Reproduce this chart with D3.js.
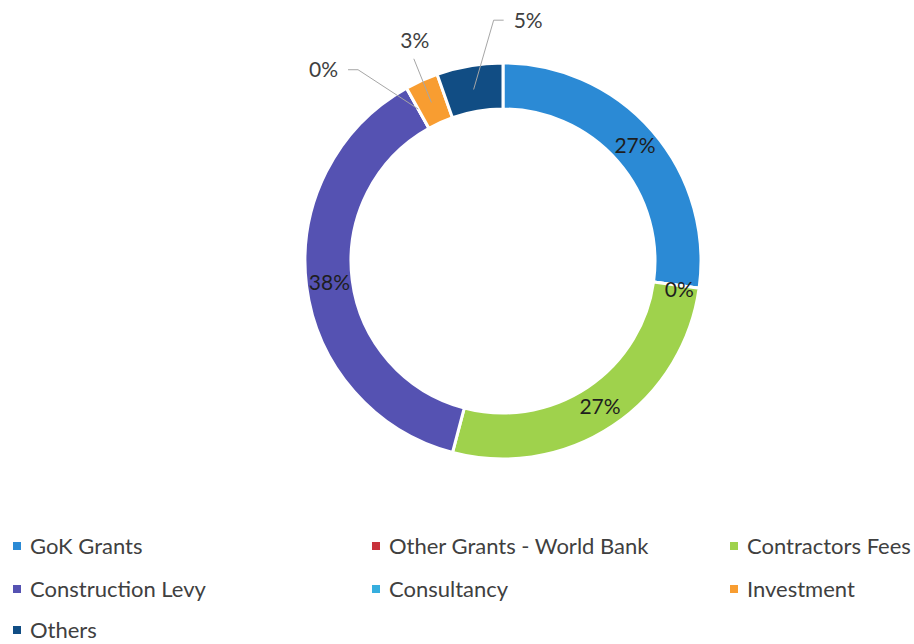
<!DOCTYPE html>
<html>
<head>
<meta charset="utf-8">
<script src="https://cdn.jsdelivr.net/npm/d3@7"></script>
<style>
body { margin: 0; background: #fff; }
svg { display: block; }
</style>
</head>
<body>
<svg></svg>
<script>
// funding sources, share of total (%)
var categories = ["GoK Grants", "Other Grants - World Bank", "Contractors Fees", "Construction Levy", "Consultancy", "Investment", "Others"];
var shares = [27.2, 0, 26.9, 37.8, 0, 2.7, 5.4];
var labels = ["27%", "0%", "27%", "38%", "0%", "3%", "5%"];
var colors = ["#2b8ad5", "#c8323c", "#9fd24c", "#5552b2", "#36aede", "#f89d31", "#114d84"];

var width = 914;
var height = 644;
var cx = 503, cy = 261;
var rOut = 198, rIn = 152;

var svg = d3.select("svg")
    .attr("width", width)
    .attr("height", height);

var data = categories.map(function(c, i) {
  return { name: c, value: shares[i], label: labels[i], color: colors[i] };
});

var pie = d3.pie()
    .sort(null)
    .value(d => d.value);

var arcs = pie(data);

var arc = d3.arc()
    .innerRadius(rIn)
    .outerRadius(rOut);

var g = svg.append("g")
    .attr("transform", "translate(" + cx + "," + cy + ")");

g.selectAll("path")
    .data(arcs)
  .enter().append("path")
    .attr("d", arc)
    .attr("fill", d => d.data.color)
    .attr("stroke", "#fff")
    .attr("stroke-width", 3);

function pt(r, a) {
  return [r * Math.sin(a), -r * Math.cos(a)];
}

var deg = Math.PI / 180;

// labels inside the ring
var inside = [0, 1, 2, 3];
g.selectAll(".lab-in")
    .data(inside.map(i => arcs[i]))
  .enter().append("text")
    .attr("class", "lab-in")
    .attr("transform", function(d) {
      var a = (d.startAngle + d.endAngle) / 2;
      var p = pt(175, a);
      if (d.data.value === 0) p = [p[0] + 3, p[1] + 5];
      return "translate(" + p[0] + "," + p[1] + ")";
    })
    .attr("text-anchor", "middle")
    .attr("dy", "0.35em")
    .style("font-family", "Lato, 'Noto Sans', sans-serif")
    .style("font-size", "21px")
    .style("fill", "#1e1e1e")
    .text(d => d.data.label);

// outside labels with leader lines
var outside = [
  { i: 4, elbow: [240, -8 * deg], tail: -10, anchor: "end" },
  { i: 5, elbow: [221, 0.5 * deg], tail: 0, anchor: "middle" },
  { i: 6, elbow: [241, 7.5 * deg], tail: 10, anchor: "start" }
];

outside.forEach(function(o) {
  var d = arcs[o.i];
  var a = (d.startAngle + d.endAngle) / 2;
  var p0 = pt(174, a);
  var p1 = pt(o.elbow[0], a + o.elbow[1]);
  var p2 = [p1[0] + o.tail, p1[1]];
  g.append("polyline")
      .attr("points", [p0, p1, p2].map(p => p.join(",")).join(" "))
      .attr("fill", "none")
      .attr("stroke", "#a6a6a6")
      .attr("stroke-width", 1);
  var tx = o.anchor === "end" ? p2[0] - 10 : o.anchor === "start" ? p2[0] + 10 : p2[0] + 1;
  var ty = o.anchor === "middle" ? p2[1] - 18 : p2[1];
  g.append("text")
      .attr("x", tx)
      .attr("y", ty)
      .attr("dy", "0.35em")
      .attr("text-anchor", o.anchor)
      .style("font-family", "Lato, 'Noto Sans', sans-serif")
      .style("font-size", "21px")
      .style("fill", "#404040")
      .text(d.data.label);
});

// legend
var colX = [13, 372, 730];
var rowY = [546, 589, 630];
var legend = svg.selectAll(".leg")
    .data(data)
  .enter().append("g")
    .attr("class", "leg")
    .attr("transform", (d, i) => "translate(" + colX[i % 3] + "," + rowY[Math.floor(i / 3)] + ")");

legend.append("rect")
    .attr("x", 0)
    .attr("y", -4)
    .attr("width", 8)
    .attr("height", 8)
    .attr("fill", d => d.color);

legend.append("text")
    .attr("x", 17)
    .attr("dy", "0.35em")
    .style("font-family", "Lato, 'Noto Sans', sans-serif")
    .style("font-size", "22px")
    .style("fill", "#404040")
    .text(d => d.name);
</script>
</body>
</html>
